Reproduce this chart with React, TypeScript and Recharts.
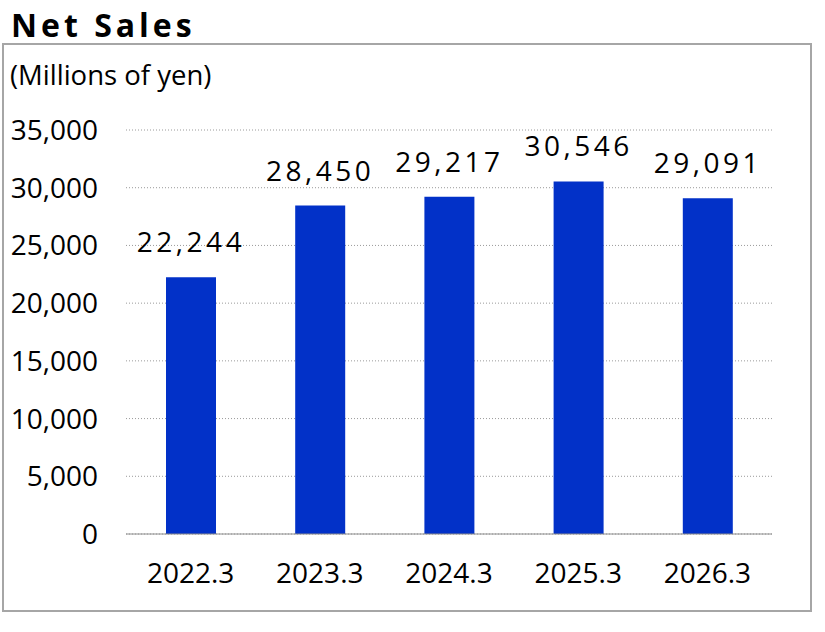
import React from 'react';
import { BarChart, Bar, XAxis, YAxis, CartesianGrid, LabelList } from 'recharts';

const years = ['2022.3', '2023.3', '2024.3', '2025.3', '2026.3'];
const netSales = [22244, 28450, 29217, 30546, 29091];
const yTicks = [0, 5000, 10000, 15000, 20000, 25000, 30000, 35000];

const data = years.map((year, i) => ({ year, sales: netSales[i] }));

const font = '"Open Sans", sans-serif';
const fmt = (v: number) => v.toLocaleString('en-US');

const App: React.FC = () => {
  return (
    <div style={{ position: 'absolute', left: 0, top: 0, width: 825, height: 632, background: '#fff' }}>
      {/* Title */}
      <div style={{ position: 'absolute', left: 11, top: 5, fontFamily: font, fontWeight: 700, fontSize: 32, letterSpacing: 4, lineHeight: '40px', color: '#000' }}>
        Net Sales
      </div>
      {/* Frame */}
      <div style={{ position: 'absolute', left: 2, top: 43, width: 806, height: 565, border: '2px solid #a6a6a6' }} />
      <div style={{ position: 'absolute', left: 10, top: 57, fontFamily: font, fontSize: 27.5, lineHeight: '36px', color: '#000' }}>
        (Millions of yen)
      </div>

      <div style={{ position: 'absolute', left: 0, top: 0 }}>
        <BarChart width={825} height={632} data={data} margin={{ top: 130, right: 53, left: 0, bottom: 0 }}>
          <CartesianGrid vertical={false} stroke="#9a9a9a" strokeDasharray="1 2" />
          <XAxis
            dataKey="year"
            height={98}
            tickSize={0}
            tickMargin={29}
            stroke="#8c8c8c"
            tick={{ fill: '#000', fontSize: 28, fontFamily: font }}
          />
          <YAxis
            width={126}
            domain={[0, 35000]}
            ticks={yTicks}
            tickFormatter={fmt}
            axisLine={false}
            tickLine={false}
            tickSize={0}
            tickMargin={28}
            tick={{ fill: '#000', fontSize: 28, fontFamily: font }}
          />
          <Bar dataKey="sales" fill="#0231c8" barSize={50} isAnimationActive={false}>
            <LabelList
              dataKey="sales"
              position="top"
              offset={25}
              formatter={(v: any) => fmt(Number(v))}
              style={{ fill: '#000', fontSize: 28, fontFamily: font, letterSpacing: 3.5 }}
            />
          </Bar>
        </BarChart>
      </div>
    </div>
  );
};

export default App;
